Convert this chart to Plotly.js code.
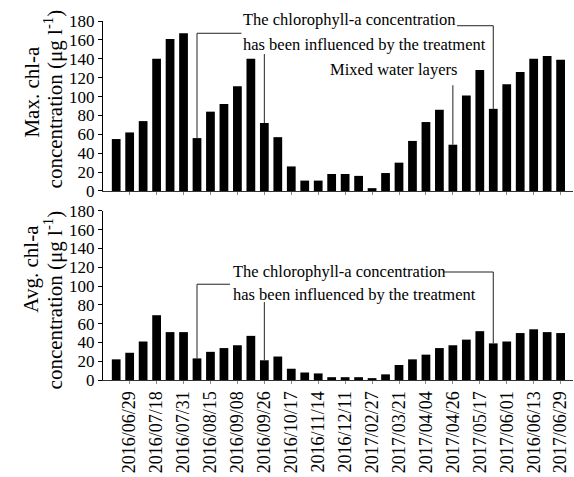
<!DOCTYPE html>
<html>
<head>
<meta charset="utf-8">
<script src="https://cdn.plot.ly/plotly-3.0.1.min.js"></script>
<style>
  html, body { margin: 0; padding: 0; background: #fff; }
  #chart { width: 574px; height: 477px; }
</style>
</head>
<body>
<div id="chart"></div>
<script>
// Sampling-date labels (one label on every second bar)
const dateLabels = [
  '2016/06/29', '2016/07/18', '2016/07/31', '2016/08/15', '2016/09/08',
  '2016/09/26', '2016/10/17', '2016/11/14', '2016/12/11', '2017/02/27',
  '2017/03/21', '2017/04/04', '2017/04/26', '2017/05/17', '2017/06/01',
  '2016/06/13', '2017/06/29'
];

// Maximum chlorophyll-a concentration per sampling (µg l-1)
const maxChl = [55, 62, 74, 140, 161, 167, 56, 84, 92, 111, 140, 72, 57, 26, 11, 11, 18,
                18, 16, 3, 19, 30, 53, 73, 86, 49, 101, 128, 87, 113, 126, 140, 143, 139];

// Average chlorophyll-a concentration per sampling (µg l-1)
const avgChl = [22, 29, 41, 69, 51, 51, 23, 30, 34, 37, 47, 21, 25, 12, 8, 7, 3,
                3, 3, 2, 6, 16, 22, 27, 34, 37, 43, 52, 39, 41, 50, 54, 51, 50];

// Bar positions 1..N on a linear axis; labels sit on every even bar
const xPos = maxChl.map((_, i) => i + 1);
const labelPos = dateLabels.map((_, i) => 2 * (i + 1));

const serif = '"Liberation Serif", "Times New Roman", serif';
const xRange = [0.02, 34.92];

const traces = [
  { type: 'bar', x: xPos, y: maxChl, xaxis: 'x', yaxis: 'y',
    marker: { color: '#000' }, width: 0.65, showlegend: false, hoverinfo: 'x+y' },
  { type: 'bar', x: xPos, y: avgChl, xaxis: 'x2', yaxis: 'y2',
    marker: { color: '#000' }, width: 0.65, showlegend: false, hoverinfo: 'x+y' }
];

// Callout leader lines: start at a bar top, rise to the elbow, optionally run sideways
const callouts = [
  { panel: 1, bar: 7,  elbowY: 167, toX: 10.3 },
  { panel: 1, bar: 12, elbowY: 145 },
  { panel: 1, bar: 29, elbowY: 175, toX: 26.3 },
  { panel: 1, bar: 26, elbowY: 112 },
  { panel: 2, bar: 7,  elbowY: 102, toX: 9.45 },
  { panel: 2, bar: 12, elbowY: 83 },
  { panel: 2, bar: 29, elbowY: 115, toX: 25.26 }
];

const shapes = [];
callouts.forEach(c => {
  const series = c.panel === 1 ? maxChl : avgChl;
  const xr = c.panel === 1 ? 'x' : 'x2';
  const yr = c.panel === 1 ? 'y' : 'y2';
  const line = { color: '#222', width: 1 };
  shapes.push({ type: 'line', xref: xr, yref: yr,
    x0: c.bar, x1: c.bar, y0: series[c.bar - 1], y1: c.elbowY, line });
  if (c.toX !== undefined) {
    shapes.push({ type: 'line', xref: xr, yref: yr,
      x0: c.bar, x1: c.toX, y0: c.elbowY, y1: c.elbowY, line });
  }
});

const noteFont = { family: serif, size: 16.5, color: '#000' };
const titleFont = { family: serif, size: 21, color: '#000' };
const annotations = [
  { xref: 'x', yref: 'paper', x: 10.27, y: 1.0028, xanchor: 'left', yanchor: 'middle',
    text: 'The chlorophyll-a concentration', showarrow: false, font: noteFont },
  { xref: 'x', yref: 'y', x: 10.27, y: 155.5, xanchor: 'left', yanchor: 'middle',
    text: 'has been influenced by the treatment', showarrow: false, font: noteFont },
  { xref: 'x', yref: 'y', x: 21.6, y: 129, xanchor: 'center', yanchor: 'middle',
    text: 'Mixed water layers', showarrow: false, font: noteFont },
  { xref: 'x2', yref: 'y2', x: 9.56, y: 116, xanchor: 'left', yanchor: 'middle',
    text: 'The chlorophyll-a concentration', showarrow: false, font: noteFont },
  { xref: 'x2', yref: 'y2', x: 9.56, y: 91.5, xanchor: 'left', yanchor: 'middle',
    text: 'has been influenced by the treatment', showarrow: false, font: noteFont },
  // Two-line vertical axis titles
  { xref: 'paper', yref: 'paper', x: -0.152, y: 0.8022, xanchor: 'center', yanchor: 'middle',
    textangle: -90, text: 'Max. chl-a', showarrow: false, font: titleFont },
  { xref: 'paper', yref: 'paper', x: -0.1055, y: 0.7827, xanchor: 'center', yanchor: 'middle',
    textangle: -90, text: 'concentration (μg l<sup>-1</sup>)', showarrow: false, font: titleFont },
  { xref: 'paper', yref: 'paper', x: -0.152, y: 0.309, xanchor: 'center', yanchor: 'middle',
    textangle: -90, text: 'Avg. chl-a', showarrow: false, font: titleFont },
  { xref: 'paper', yref: 'paper', x: -0.1055, y: 0.2228, xanchor: 'center', yanchor: 'middle',
    textangle: -90, text: 'concentration (μg l<sup>-1</sup>)', showarrow: false, font: titleFont }
];

const yCommon = {
  range: [0, 180], dtick: 20, tick0: 0,
  showline: true, linecolor: '#000', linewidth: 1,
  ticks: 'outside', ticklen: 4, tickcolor: '#000',
  showgrid: false, zeroline: false,
  tickfont: { family: serif, size: 17, color: '#000' }
};

const xCommon = {
  range: xRange, showgrid: false, zeroline: false,
  showline: true, linecolor: '#333', linewidth: 1,
  tickmode: 'array', tickvals: labelPos, ticktext: dateLabels,
  ticks: 'outside', ticklen: 3, tickcolor: '#888'
};

const layout = {
  width: 574, height: 477,
  margin: { l: 103, r: 1, t: 21, b: 97 },
  paper_bgcolor: '#fff', plot_bgcolor: '#fff',
  bargap: 0.35,
  xaxis: Object.assign({}, xCommon, { anchor: 'y', showticklabels: false }),
  xaxis2: Object.assign({}, xCommon, { anchor: 'y2', tickangle: -90,
    tickfont: { family: serif, size: 18, color: '#000' } }),
  yaxis: Object.assign({}, yCommon, { domain: [0.5265, 1], anchor: 'x' }),
  yaxis2: Object.assign({}, yCommon, { domain: [0, 0.4708], anchor: 'x2' }),
  shapes: shapes,
  annotations: annotations
};

Plotly.newPlot('chart', traces, layout, { displayModeBar: false, responsive: false });
</script>
</body>
</html>
